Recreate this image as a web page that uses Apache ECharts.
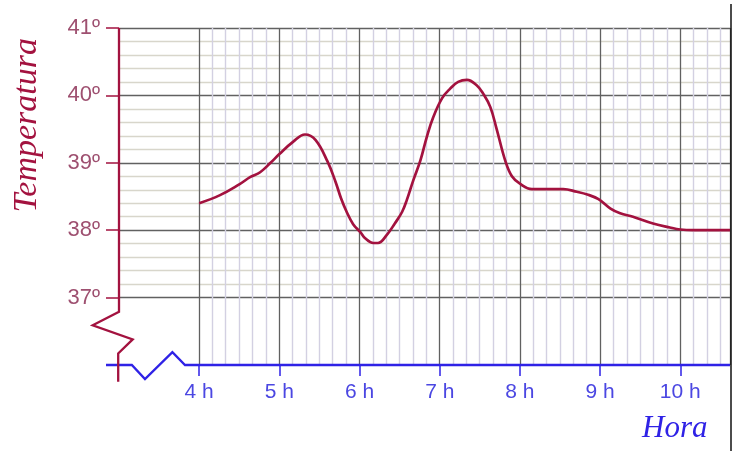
<!DOCTYPE html>
<html>
<head>
<meta charset="utf-8">
<script src="https://cdn.jsdelivr.net/npm/echarts@6/dist/echarts.min.js"></script>
<style>
  html, body { margin: 0; padding: 0; background: #fff; }
  #chart { width: 736px; height: 451px; }
</style>
</head>
<body>
<div id="chart"></div>
<script>
// ---- data ----
const hours = [4.00, 4.26, 4.50, 4.64, 4.76, 4.89, 5.00, 5.17, 5.32, 5.45, 5.60, 5.70, 5.77, 5.84, 5.92, 6.01, 6.07, 6.17, 6.23, 6.34, 6.44, 6.53, 6.59, 6.67, 6.76, 6.84, 6.92, 7.03, 7.13, 7.23, 7.34, 7.46, 7.54, 7.63, 7.71, 7.82, 7.90, 8.00, 8.15, 8.54, 8.71, 8.84, 8.98, 9.13, 9.25, 9.41, 9.66, 9.87, 10.00, 10.16, 10.62];
const temps = [38.40, 38.52, 38.68, 38.79, 38.86, 39.00, 39.13, 39.31, 39.42, 39.34, 39.02, 38.72, 38.47, 38.27, 38.09, 37.97, 37.88, 37.81, 37.81, 37.93, 38.10, 38.27, 38.45, 38.74, 39.04, 39.39, 39.68, 39.96, 40.10, 40.20, 40.23, 40.15, 40.03, 39.83, 39.50, 39.02, 38.80, 38.69, 38.61, 38.61, 38.57, 38.53, 38.46, 38.32, 38.25, 38.20, 38.10, 38.04, 38.01, 38.00, 38.00];
const hourTicks = [4, 5, 6, 7, 8, 9, 10];
const tempTicks = [37, 38, 39, 40, 41];
const xName = 'Hora';
const yName = 'Temperatura';

// axis extents
const xMin = 3, xMax = 10.62, yMin = 36, yMax = 41;
// axis decoration paths (axis-break zigzags) in data units
const yAxisPath = [[3, 41], [3, 36.79], [2.672, 36.59], [3.171, 36.38], [2.99, 36.17], [2.99, 35.75]];
const xAxisPath = [[2.838, 36], [3.16, 36], [3.324, 35.79], [3.666, 36.19], [3.823, 36], [xMax, 36]];

const RED = '#a3123f';
const BLUE = '#2f22e6';
const MAJOR = '#616161';

const chart = echarts.init(document.getElementById('chart'), null, { renderer: 'canvas' });

const G = { right: 6, top: 28, bottom: 86 };

chart.setOption({
  animation: false,
  backgroundColor: '#fff',
  grid: [
    { left: 119, right: G.right, top: G.top, bottom: G.bottom },         // main
    { left: 199, right: G.right, top: G.top, bottom: G.bottom },         // vertical grid lines (from 4 h)
    { left: 119, right: G.right, top: G.top, bottom: G.bottom + 67.4 }   // horizontal grid lines (from 37º)
  ],
  xAxis: [
    {
      gridIndex: 0, type: 'value', min: xMin, max: xMax, interval: 1,
      axisLine: { show: false },
      splitLine: { show: false },
      axisTick: { show: true, customValues: hourTicks, length: 11, lineStyle: { color: BLUE, width: 1.5 } },
      axisLabel: {
        customValues: hourTicks, margin: 17,
        formatter: v => v + ' h',
        color: '#4b47e2', fontSize: 21, fontFamily: 'Liberation Sans, Arial, sans-serif'
      }
    },
    {
      gridIndex: 1, type: 'value', min: 4, max: xMax, interval: 1,
      axisLine: { show: false }, axisTick: { show: false }, axisLabel: { show: false },
      splitLine: { show: true, lineStyle: { color: MAJOR, width: 1.3 } },
      minorTick: { show: false, splitNumber: 6 },
      minorSplitLine: { show: true, lineStyle: { color: '#d3d0e2', width: 1.4 } }
    },
    {
      gridIndex: 2, type: 'value', min: xMin, max: xMax,
      show: false
    }
  ],
  yAxis: [
    {
      gridIndex: 0, type: 'value', min: yMin, max: yMax, interval: 1,
      axisLine: { show: false },
      splitLine: { show: false },
      axisTick: { show: true, customValues: tempTicks, length: 13, lineStyle: { color: RED, width: 1.5 } },
      axisLabel: {
        customValues: tempTicks, margin: 19,
        formatter: v => v + 'º',
        color: '#9e5070', fontSize: 22, fontFamily: 'Liberation Sans, Arial, sans-serif'
      }
    },
    {
      gridIndex: 1, type: 'value', min: yMin, max: yMax, show: false
    },
    {
      gridIndex: 2, type: 'value', min: 37, max: yMax, interval: 1,
      axisLine: { show: false }, axisTick: { show: false }, axisLabel: { show: false },
      splitLine: { show: true, lineStyle: { color: MAJOR, width: 1.3 } },
      minorTick: { show: false, splitNumber: 5 },
      minorSplitLine: { show: true, lineStyle: { color: '#d8d6cb', width: 1.4 } }
    }
  ],
  series: [
    {
      name: yName, type: 'line', xAxisIndex: 0, yAxisIndex: 0,
      data: hours.map((h, i) => [h, temps[i]]),
      symbol: 'none', smooth: 0.4, z: 5,
      lineStyle: { color: RED, width: 2.7 }
    }
  ]
});

// axis lines with break zigzags, placed through the chart's own scales
const toPx = p => chart.convertToPixel({ gridIndex: 0 }, p);
chart.setOption({
  graphic: [
    {
      type: 'polyline', z: 3,
      shape: { points: xAxisPath.map(toPx) },
      style: { stroke: BLUE, lineWidth: 2.3, fill: null }
    },
    {
      type: 'polyline', z: 4,
      shape: { points: yAxisPath.map(toPx) },
      style: { stroke: RED, lineWidth: 2.3, fill: null }
    },
    {
      type: 'text', left: 10, top: 38, rotation: Math.PI / 2,
      style: {
        text: yName, fill: RED,
        font: 'italic 34px "Liberation Serif", "Times New Roman", serif'
      }
    },
    {
      type: 'text', left: 642, top: 413,
      style: {
        text: xName, fill: BLUE,
        font: 'italic 31px "Liberation Serif", "Times New Roman", serif'
      }
    },
    {
      type: 'line', shape: { x1: 731, y1: 4, x2: 731, y2: 451 },
      style: { stroke: '#111', lineWidth: 1.5 }
    }
  ]
});
</script>
</body>
</html>
